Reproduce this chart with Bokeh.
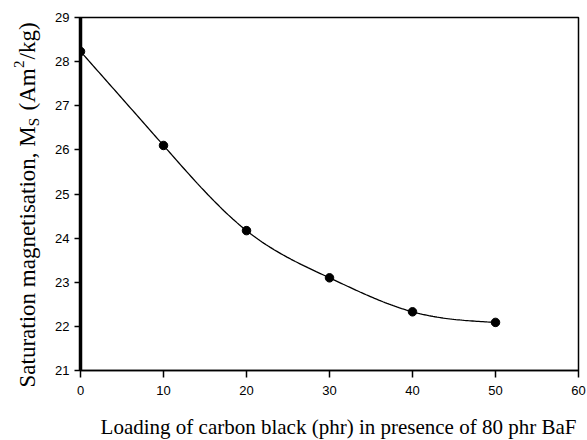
import numpy as np
from bokeh.plotting import figure
from bokeh.layouts import row, column
from bokeh.models import Label, FixedTicker
from bokeh.embed import file_html
from bokeh.resources import INLINE

# Carbon black loading (phr) and saturation magnetisation (Am^2/kg)
loading = [0, 10, 20, 30, 40, 50]
ms_values = [28.23, 26.10, 24.17, 23.10, 22.33, 22.09]

x_ticks = [0, 10, 20, 30, 40, 50, 60]
y_ticks = [21, 22, 23, 24, 25, 26, 27, 28, 29]


def natural_spline(xs, ys, n=200):
    """Smooth curve through the measured points (natural cubic spline)."""
    xs = np.asarray(xs, float)
    ys = np.asarray(ys, float)
    m = len(xs)
    h = np.diff(xs)
    A = np.zeros((m, m))
    b = np.zeros(m)
    A[0, 0] = A[-1, -1] = 1.0
    for i in range(1, m - 1):
        A[i, i - 1] = h[i - 1]
        A[i, i] = 2 * (h[i - 1] + h[i])
        A[i, i + 1] = h[i]
        b[i] = 3 * ((ys[i + 1] - ys[i]) / h[i] - (ys[i] - ys[i - 1]) / h[i - 1])
    c = np.linalg.solve(A, b)
    xf = np.linspace(xs[0], xs[-1], n)
    yf = np.empty_like(xf)
    for k, xv in enumerate(xf):
        i = min(np.searchsorted(xs, xv, side="right") - 1, m - 2)
        dx = xv - xs[i]
        bi = (ys[i + 1] - ys[i]) / h[i] - h[i] * (2 * c[i] + c[i + 1]) / 3
        di = (c[i + 1] - c[i]) / (3 * h[i])
        yf[k] = ys[i] + bi * dx + c[i] * dx ** 2 + di * dx ** 3
    return xf, yf


def text_strip(w, h):
    """Blank figure used to hold title text."""
    f = figure(width=w, height=h, x_range=(0, 1), y_range=(0, 1),
               output_backend="svg", toolbar_location=None,
               x_axis_type=None, y_axis_type=None, min_border=0)
    f.outline_line_color = None
    f.background_fill_color = "white"
    f.border_fill_color = "white"
    f.xgrid.visible = False
    f.ygrid.visible = False
    return f


# main plot
p = figure(width=542, height=400, x_range=(0, 60), y_range=(21, 29),
           output_backend="svg", toolbar_location=None,
           min_border_left=35, min_border_right=9,
           min_border_top=17, min_border_bottom=30)

p.background_fill_color = "white"
p.border_fill_color = "white"
p.outline_line_color = "black"
p.outline_line_width = 1.5
p.xgrid.visible = False
p.ygrid.visible = False

tick_font = "Liberation Sans"
for ax in (p.xaxis[0], p.yaxis[0]):
    ax.major_label_text_font = tick_font
    ax.major_label_text_font_size = "13px"
    ax.major_label_text_color = "black"
    ax.axis_line_color = "black"
    ax.major_tick_line_color = "black"
    ax.major_tick_line_width = 1.5
    ax.minor_tick_line_color = None
    ax.major_tick_in = 0

p.xaxis.ticker = FixedTicker(ticks=x_ticks)
p.yaxis.ticker = FixedTicker(ticks=y_ticks)
p.xaxis.major_tick_out = 7
p.yaxis.major_tick_out = 6
p.xaxis.major_label_standoff = 8
p.yaxis.major_label_standoff = 5
p.xaxis.axis_line_width = 1.5
p.yaxis.axis_line_width = 3.5

xs, ys = natural_spline(loading, ms_values)
p.line(xs, ys, line_color="black", line_width=1.3)
p.scatter(loading, ms_values, size=8.5, marker="circle",
          fill_color="black", line_color="black")

serif = "Liberation Serif"

# y-axis title strip, built from pieces for the subscript and superscript
ylab = text_strip(45, 440)
ang = np.pi / 2
pieces = [
    ("Saturation magnetisation, M", 27.0, 53.0, "23px"),
    ("S", 33.5, 314.3, "15px"),
    ("(Am", 27.0, 330.0, "23px"),
    ("2", 18.5, 372.5, "15px"),
    ("/kg)", 27.0, 381.0, "23px"),
]
for txt, lx, ly, fs in pieces:
    ylab.add_layout(Label(x=lx, y=ly, x_units="screen", y_units="screen",
                          text=txt, angle=ang, text_font=serif,
                          text_font_size=fs, text_color="black",
                          text_align="left", text_baseline="alphabetic"))

# x-axis title strip (its frame lines up with the main plot's frame)
xlab = text_strip(542, 40)
xlab.add_layout(Label(x=258, y=14, x_units="screen", y_units="screen",
                      text="Loading of carbon black (phr) in presence of 80 phr BaF",
                      text_font=serif, text_font_size="21px", text_color="black",
                      text_align="center", text_baseline="alphabetic"))

layout = row(ylab, column(p, xlab, spacing=0), spacing=0)

open("out.html", "w").write(file_html(layout, INLINE))
